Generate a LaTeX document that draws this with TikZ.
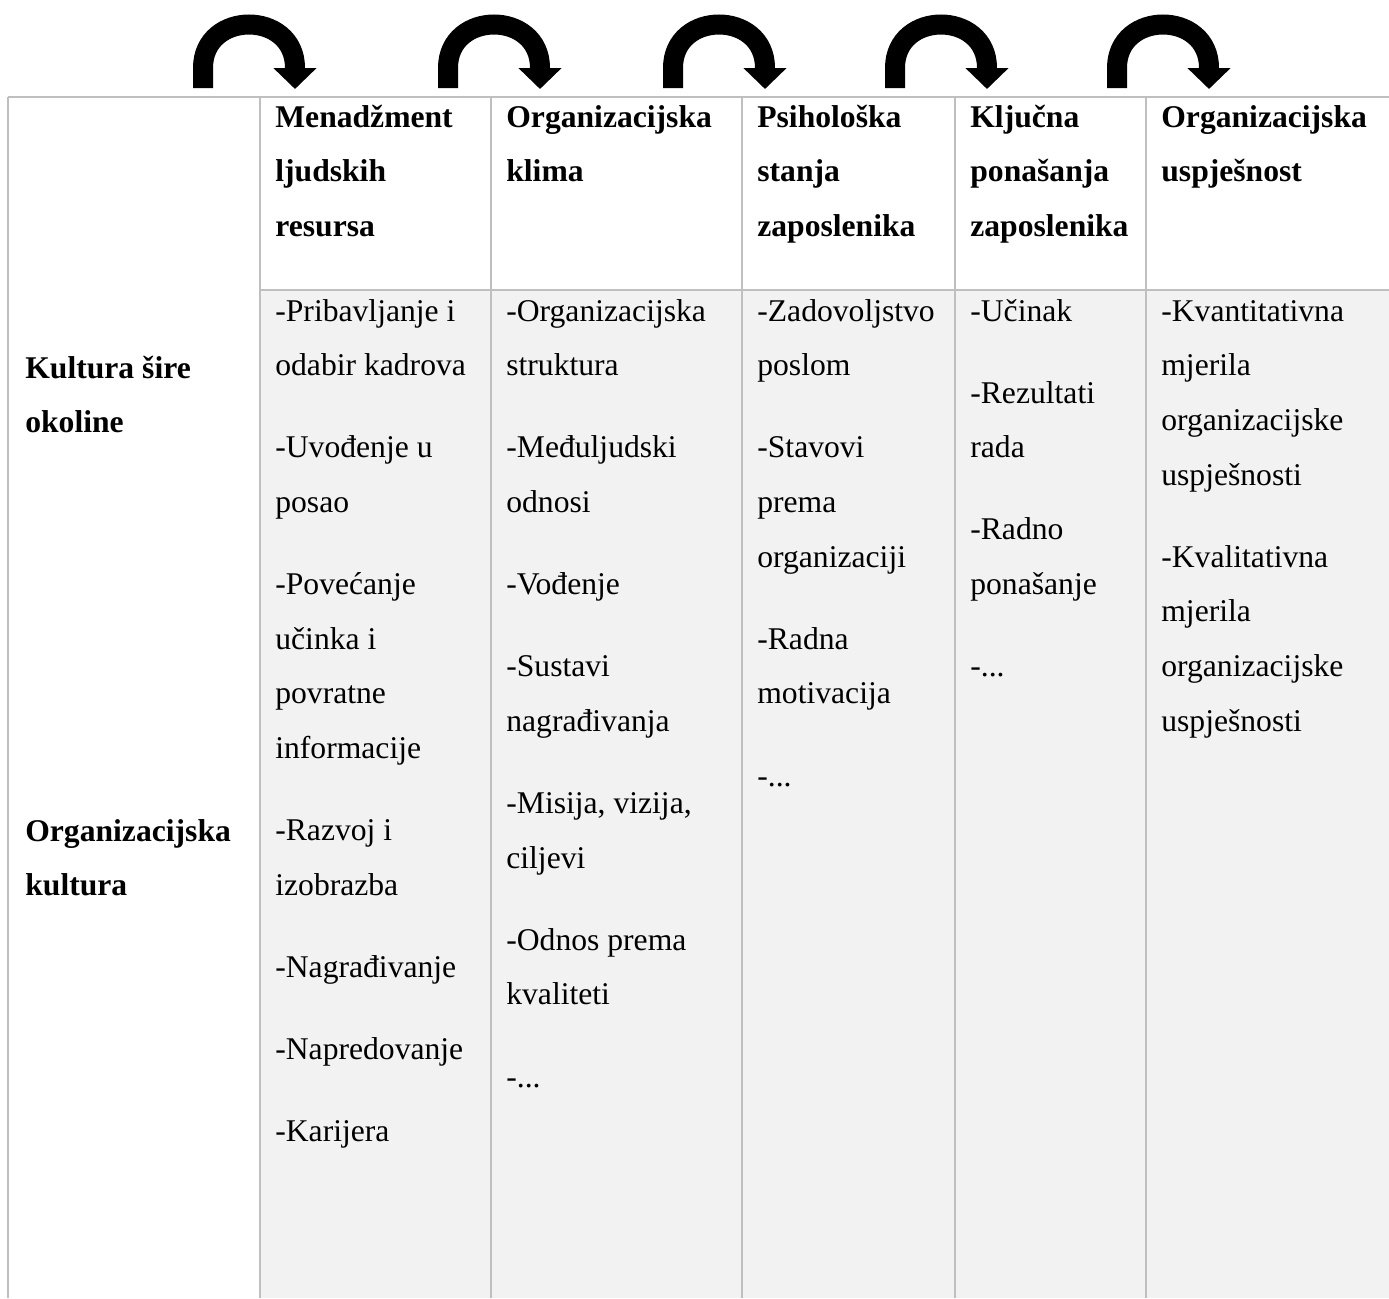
\documentclass[tikz,border=0pt]{standalone}
\usepackage{fontspec}
\setmainfont{Liberation Serif}
\usetikzlibrary{arrows.meta}
\definecolor{rulegray}{HTML}{BFBFBF}
\definecolor{cellgray}{HTML}{F2F2F2}
\newcommand{\itemgap}{\\[15.6pt]}
\tikzset{
  cell/.style={anchor=base west, inner sep=0pt, align=flush left, text width=5cm,
    font=\fontsize{18}{31.13}\selectfont},
  headcell/.style={cell, font=\fontsize{18}{31.13}\selectfont\bfseries},
  rule/.style={draw=rulegray, line width=1.1pt},
  flowarrow/.style={line width=0.4cm, -{Triangle[width=0.84cm,length=0.42cm]}}
}
\begin{document}
\begin{tikzpicture}[x=0.02cm, y=-0.02cm]
            \useasboundingbox (0,0) rectangle (1389,1298);

            %%table
            \fill[cellgray] (260,290) rectangle (1389,1298);
            \draw[rule] (8,97) to (1389,97);
            \draw[rule] (260,290) to (1389,290);
            \draw[rule] (8,97) to (8,1298);
            \draw[rule] (260,97) to (260,1298);
            \draw[rule] (491,97) to (491,1298);
            \draw[rule] (742,97) to (742,1298);
            \draw[rule] (955,97) to (955,1298);
            \draw[rule] (1146,97) to (1146,1298);

            %%arrows
            \draw[flowarrow] (203,88) to (203,68) .. controls (203,10) and (295,10) .. (295,68) to (295,89);
            \draw[flowarrow] (448,88) to (448,68) .. controls (448,10) and (540,10) .. (540,68) to (540,89);
            \draw[flowarrow] (673,88) to (673,68) .. controls (673,10) and (765,10) .. (765,68) to (765,89);
            \draw[flowarrow] (895,88) to (895,68) .. controls (895,10) and (987,10) .. (987,68) to (987,89);
            \draw[flowarrow] (1117,88) to (1117,68) .. controls (1117,10) and (1209,10) .. (1209,68) to (1209,89);

            %%header row
            \node[headcell] (hrm) at (275,127){Menadžment\\ljudskih\\resursa};
            \node[headcell] (klima) at (506,127){Organizacijska\\klima};
            \node[headcell] (stanja) at (757,127){Psihološka\\stanja\\zaposlenika};
            \node[headcell] (ponasanja) at (970,127){Ključna\\ponašanja\\zaposlenika};
            \node[headcell] (uspjeh) at (1161,127){Organizacijska\\uspješnost};

            %%left column
            \node[headcell] (okolina) at (25,378){Kultura šire\\okoline};
            \node[headcell] (kultura) at (25,841){Organizacijska\\kultura};

            %%body row
            \node[cell] (hrmlist) at (275,321){-Pribavljanje i\\odabir kadrova\itemgap
              -Uvođenje u\\posao\itemgap
              -Povećanje\\učinka i\\povratne\\informacije\itemgap
              -Razvoj i\\izobrazba\itemgap
              -Nagrađivanje\itemgap
              -Napredovanje\itemgap
              -Karijera};
            \node[cell] (klimalist) at (506,321){-Organizacijska\\struktura\itemgap
              -Međuljudski\\odnosi\itemgap
              -Vođenje\itemgap
              -Sustavi\\nagrađivanja\itemgap
              -Misija, vizija,\\ciljevi\itemgap
              -Odnos prema\\kvaliteti\itemgap
              -...};
            \node[cell] (stanjalist) at (757,321){-Zadovoljstvo\\poslom\itemgap
              -Stavovi\\prema\\organizaciji\itemgap
              -Radna\\motivacija\itemgap
              -...};
            \node[cell] (ponasanjalist) at (970,321){-Učinak\itemgap
              -Rezultati\\rada\itemgap
              -Radno\\ponašanje\itemgap
              -...};
            \node[cell] (uspjehlist) at (1161,321){-Kvantitativna\\mjerila\\organizacijske\\uspješnosti\itemgap
              -Kvalitativna\\mjerila\\organizacijske\\uspješnosti};
\end{tikzpicture}
\end{document}
